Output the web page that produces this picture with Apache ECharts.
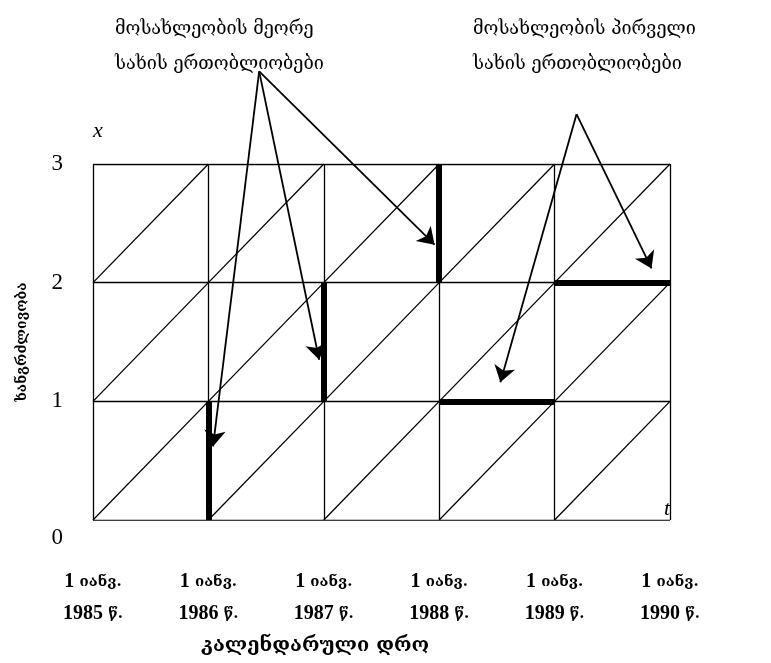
<!DOCTYPE html>
<html><head><meta charset="utf-8">
<script src="https://cdn.jsdelivr.net/npm/echarts@6/dist/echarts.min.js"></script>
<style>html,body{margin:0;padding:0;background:#fff}#c{width:771px;height:663px}</style>
</head><body><div id="c"></div>
<script>
// Data
const years = [1985, 1986, 1987, 1988, 1989, 1990];
const ages = [0, 1, 2, 3];
const yearLabels = ['1 იანვ.\n1985 წ.', '1 იანვ.\n1986 წ.', '1 იანვ.\n1987 წ.', '1 იანვ.\n1988 წ.', '1 იანვ.\n1989 წ.', '1 იანვ.\n1990 წ.'];
const ageLabels = ['0', '1', '2', '3'];
// thick segments: [x1, y1, x2, y2]
const secondKind = [[1986, 0, 1986, 1], [1987, 1, 1987, 2], [1988, 2, 1988, 3]];
const firstKind = [[1988, 1, 1989, 1], [1989, 2, 1990, 2]];
// arrows: origin and tips (data units)
const secondOrigin = [1986.44, 3.78];
const secondTips = [[1986.04, 0.62], [1986.96, 1.35], [1987.96, 2.32]];
const firstOrigin = [1989.19, 3.42];
const firstTips = [[1988.53, 1.16], [1989.84, 2.12]];

const gridLines = [];
years.forEach(y => gridLines.push({coords: [[y, ages[0]], [y, ages[ages.length - 1]]]}));
ages.forEach(a => gridLines.push({coords: [[years[0], a], [years[years.length - 1], a]]}));
for (let i = 0; i < years.length - 1; i++)
  for (let j = 0; j < ages.length - 1; j++)
    gridLines.push({coords: [[years[i], ages[j]], [years[i + 1], ages[j + 1]]]});
const thick = secondKind.concat(firstKind).map(s => ({coords: [[s[0], s[1]], [s[2], s[3]]]}));
const arrows = secondTips.map(t => ({coords: [secondOrigin, t]}))
  .concat(firstTips.map(t => ({coords: [firstOrigin, t]})));

const chart = echarts.init(document.getElementById('c'));
const geo = '"DejaVu Serif", serif';
const rom = '"Liberation Serif", serif';
function richLabel(s) {
  return s.split('\n').map(line =>
    line.split(/(\d+)/).filter(p => p.length).map(p =>
      /^\d+$/.test(p) ? '{n|' + p + '}' : '{g|' + p + '}').join('')).join('\n');
}
chart.setOption({
  animation: false,
  grid: {left: 93, right: 101, top: 164, bottom: 143},
  title: [
    {text: 'მოსახლეობის მეორე\nსახის ერთობლიობები', left: 110, top: 7,
     textStyle: {fontFamily: geo, fontWeight: 'normal', fontSize: 18, lineHeight: 35, color: '#000'}},
    {text: 'მოსახლეობის პირველი\nსახის ერთობლიობები', left: 468, top: 7,
     textStyle: {fontFamily: geo, fontWeight: 'normal', fontSize: 18, lineHeight: 35, color: '#000'}},
    {text: 'კალენდარული დრო', left: 310, top: 631, textAlign: 'center',
     textStyle: {fontFamily: geo, fontWeight: 'bold', fontSize: 20, color: '#000'}}
  ],
  graphic: [
    {type: 'text', left: 93, top: 120, style: {text: 'x', font: 'italic 22px "Liberation Serif"', fill: '#000'}},
    {type: 'text', left: 664, top: 498, style: {text: 't', font: 'italic 22px "Liberation Serif"', fill: '#000'}}
  ],
  xAxis: {
    type: 'value', min: 1985, max: 1990, interval: 1,
    axisLine: {show: false}, axisTick: {show: false}, splitLine: {show: false},
    axisLabel: {
      margin: 46, lineHeight: 32, color: '#000',
      formatter: v => richLabel(yearLabels[years.indexOf(v)]),
      rich: {
        n: {fontFamily: rom, fontWeight: 'bold', fontSize: 20, lineHeight: 32, color: '#000'},
        g: {fontFamily: geo, fontWeight: 'bold', fontSize: 15, lineHeight: 32, color: '#000'}
      }
    }
  },
  yAxis: {
    type: 'value', min: 0, max: 3, interval: 1,
    axisLine: {show: false}, axisTick: {show: false}, splitLine: {show: false},
    name: 'ხანგრძლივობა', nameLocation: 'middle', nameGap: 64, nameRotate: 90,
    nameTextStyle: {fontFamily: geo, fontWeight: 'bold', fontSize: 14, color: '#000'},
    axisLabel: {
      margin: 30, fontFamily: rom, fontSize: 23, color: '#000',
      formatter: v => v === 0 ? '{low|' + ageLabels[0] + '}' : ageLabels[ages.indexOf(v)],
      rich: {low: {fontFamily: rom, fontSize: 23, color: '#000', padding: [36, 0, 0, 0]}}
    }
  },
  series: [
    {type: 'lines', coordinateSystem: 'cartesian2d', data: gridLines, silent: true,
     lineStyle: {color: '#000', width: 1.3, opacity: 1}},
    {type: 'lines', coordinateSystem: 'cartesian2d', data: thick, silent: true,
     lineStyle: {color: '#000', width: 6, opacity: 1}},
    {type: 'lines', coordinateSystem: 'cartesian2d', data: arrows, silent: true, clip: false,
     symbol: ['none', 'arrow'], symbolSize: [10, 16],
     lineStyle: {color: '#000', width: 1.8, opacity: 1}}
  ]
});
</script></body></html>
